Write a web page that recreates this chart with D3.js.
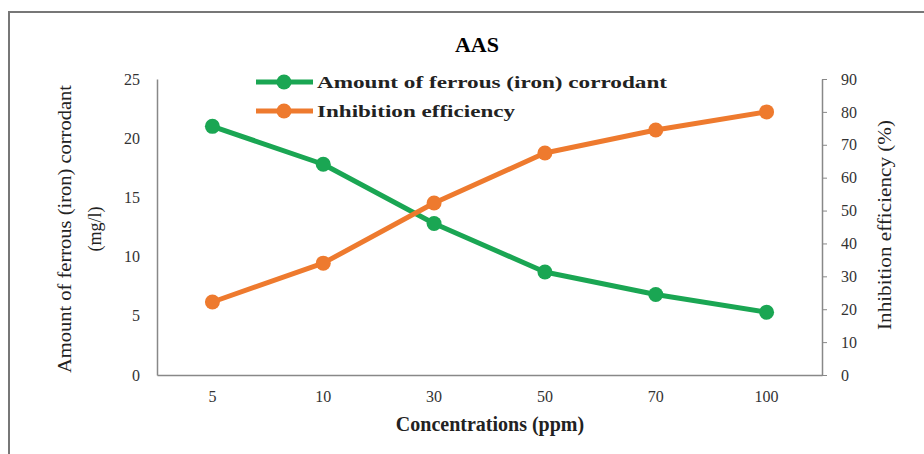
<!DOCTYPE html>
<html><head><meta charset="utf-8">
<script src="https://cdn.jsdelivr.net/npm/d3@7"></script>
<style>
body{margin:0;background:#fff}
#c text{font-family:"Liberation Serif","Times New Roman",Tinos !important}
</style>
</head><body><svg id="c" width="924" height="454"></svg>
<script>
const categories = ["5","10","30","50","70","100"];
const ferrous = [21.0, 17.8, 12.8, 8.7, 6.8, 5.3];
const inhibition = [22.2, 34.0, 52.3, 67.5, 74.5, 80.0];
const leftTicks = [0,5,10,15,20,25];
const rightTicks = [0,10,20,30,40,50,60,70,80,90];
const seriesNames = ["Amount of ferrous (iron) corrodant","Inhibition efficiency"];
const colors = ["#1aa653","#ee7a2e"];

const svg = d3.select("#c");
const L = 157, R = 822, T = 79, B = 375;

svg.append("rect").attr("x",9).attr("y",12).attr("width",940).attr("height",470)
  .attr("fill","none").attr("stroke","#777").attr("stroke-width",2);

const x = d3.scaleBand().domain(categories).range([L,R]);
const yL = d3.scaleLinear().domain([0,25]).range([B,T]);
const yR = d3.scaleLinear().domain([0,90]).range([B,T]);

function styleAxis(g){
  g.attr("font-family",null).attr("font-size",16);
  g.select(".domain").attr("stroke","#888").attr("stroke-width",1.5);
  g.selectAll(".tick line").attr("stroke","#888");
  g.selectAll("text").attr("fill","#333");
}
const gl = svg.append("g").attr("transform",`translate(${L},0)`)
  .call(d3.axisLeft(yL).tickValues(leftTicks).tickSize(0).tickPadding(17));
styleAxis(gl);
const gr = svg.append("g").attr("transform",`translate(${R},0)`)
  .call(d3.axisRight(yR).tickValues(rightTicks).tickSizeOuter(0).tickSizeInner(5).tickPadding(14));
styleAxis(gr);
const gb = svg.append("g").attr("transform",`translate(0,${B})`)
  .call(d3.axisBottom(x).tickSize(0).tickPadding(16));
styleAxis(gb);

const cx = d => x(d) + x.bandwidth()/2;
function drawSeries(vals, ys, col){
  const pts = categories.map((c,i)=>[cx(c), ys(vals[i])]);
  svg.append("path").attr("d", d3.line()(pts)).attr("fill","none")
    .attr("stroke",col).attr("stroke-width",5).attr("stroke-linejoin","round");
  svg.selectAll(null).data(pts).enter().append("circle")
    .attr("cx",d=>d[0]).attr("cy",d=>d[1]).attr("r",7.5).attr("fill",col);
}
drawSeries(ferrous, yL, colors[0]);
drawSeries(inhibition, yR, colors[1]);

svg.append("text").attr("x",477).attr("y",52).attr("text-anchor","middle")
  .attr("font-weight","bold").attr("font-size",22).text("AAS");

const legY = [82, 111], legEnd = [667, 515];
seriesNames.forEach((n,i)=>{
  svg.append("line").attr("x1",256).attr("x2",313).attr("y1",legY[i]).attr("y2",legY[i])
    .attr("stroke",colors[i]).attr("stroke-width",5);
  svg.append("circle").attr("cx",284).attr("cy",legY[i]).attr("r",7.5).attr("fill",colors[i]);
  svg.append("text").attr("x",317).attr("y",legY[i]+6)
    .attr("font-weight","bold").attr("font-size",17).attr("fill","#222")
    .attr("textLength",legEnd[i]-317).attr("lengthAdjust","spacingAndGlyphs").text(n);
});

svg.append("text").attr("transform","translate(71,229) rotate(-90)").attr("text-anchor","middle")
  .attr("font-size",18).attr("fill","#222")
  .attr("textLength",288).attr("lengthAdjust","spacingAndGlyphs").text("Amount of ferrous (iron) corrodant");
svg.append("text").attr("transform","translate(101,229) rotate(-90)").attr("text-anchor","middle")
  .attr("font-size",18).attr("fill","#222").text("(mg/l)");
svg.append("text").attr("transform","translate(891,225) rotate(-90)").attr("text-anchor","middle")
  .attr("font-size",18).attr("fill","#222")
  .attr("textLength",210).attr("lengthAdjust","spacingAndGlyphs").text("Inhibition efficiency (%)");
svg.append("text").attr("x",490).attr("y",431).attr("text-anchor","middle")
  .attr("font-weight","bold").attr("font-size",20).attr("fill","#222")
  .text("Concentrations (ppm)");
</script></body></html>
